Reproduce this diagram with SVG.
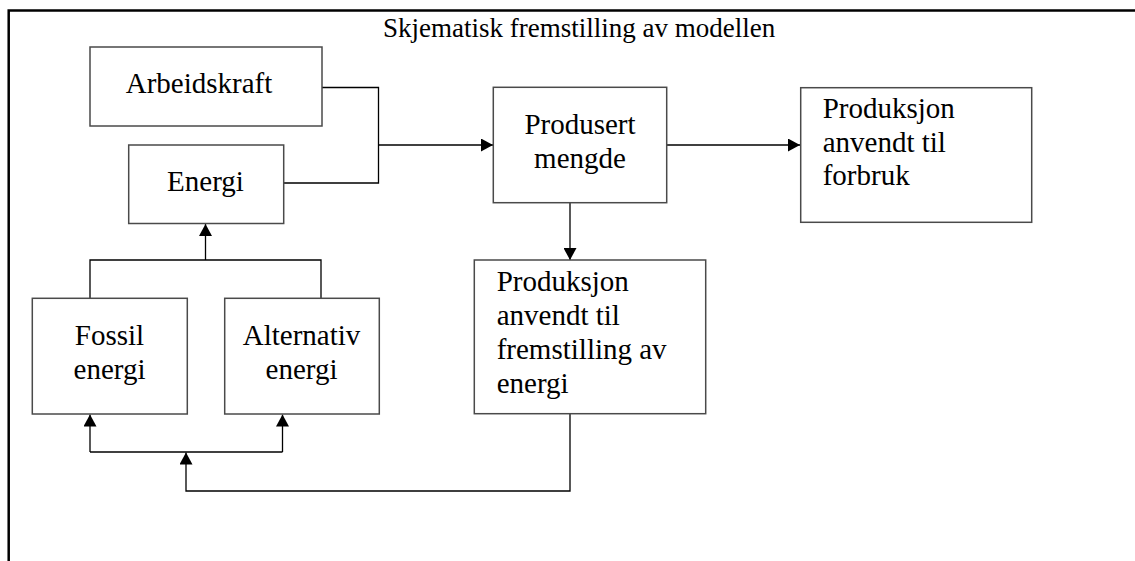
<svg xmlns="http://www.w3.org/2000/svg" width="1135" height="561" viewBox="0 0 1135 561">
<defs>
<style>
.box{fill:#fff;stroke:#4a4a4a;stroke-width:1.5}
.t{font-family:"Liberation Serif","Times New Roman",serif;font-size:29px;fill:#000}
.c{text-anchor:middle}
.ln{fill:none;stroke:#000;stroke-width:1.3}
.frame{fill:none;stroke:#000;stroke-width:2.5}
</style>
<marker id="ah" viewBox="0 0 12 13" refX="12" refY="6.5" markerWidth="12" markerHeight="13" markerUnits="userSpaceOnUse" orient="auto">
<path d="M0,0 L12,6.5 L0,13 Z" fill="#000"/>
</marker>
</defs>
<rect width="1135" height="561" fill="#fff"/>
<path class="frame" d="M8.7,561 V10.5 H1135"/>
<text id="title" x="383" y="37" font-family="'Liberation Serif','Times New Roman',serif" font-size="27" fill="#000">Skjematisk fremstilling av modellen</text>

<g id="connectors">
<polyline class="ln" points="322,87.5 378.5,87.5 378.5,183 284,183"/>
<line class="ln" x1="378.5" y1="145" x2="493" y2="145" marker-end="url(#ah)"/>
<line class="ln" x1="667" y1="145" x2="800" y2="145" marker-end="url(#ah)"/>
<line class="ln" x1="570" y1="203" x2="570" y2="260" marker-end="url(#ah)"/>
<polyline class="ln" points="570,414 570,491 186,491 186,452.5" marker-end="url(#ah)"/>
<line class="ln" x1="90" y1="452" x2="282.5" y2="452"/>
<line class="ln" x1="90" y1="452" x2="90" y2="414.5" marker-end="url(#ah)"/>
<line class="ln" x1="282.5" y1="452" x2="282.5" y2="414.5" marker-end="url(#ah)"/>
<polyline class="ln" points="90,298 90,260 321,260 321,298"/>
<line class="ln" x1="205.5" y1="260" x2="205.5" y2="224" marker-end="url(#ah)"/>
</g>

<g id="arbeidskraft">
<rect class="box" x="90" y="47" width="232" height="79"/>
<text class="t c" x="199" y="93">Arbeidskraft</text>
</g>
<g id="energi">
<rect class="box" x="128.7" y="145" width="155" height="78.5"/>
<text class="t c" x="205.5" y="191">Energi</text>
</g>
<g id="produsert">
<rect class="box" x="493.3" y="87.3" width="173.4" height="115.4"/>
<text class="t c" x="580" y="134">Produsert</text>
<text class="t c" x="580" y="167.5">mengde</text>
</g>
<g id="forbruk">
<rect class="box" x="800.7" y="87.7" width="231" height="134.6"/>
<text class="t" x="822.7" y="118">Produksjon</text>
<text class="t" x="822.7" y="151.5">anvendt til</text>
<text class="t" x="822.7" y="185">forbruk</text>
</g>
<g id="fremstilling">
<rect class="box" x="474.3" y="260" width="231.4" height="153.7"/>
<text class="t" x="496.7" y="291">Produksjon</text>
<text class="t" x="496.7" y="324.5">anvendt til</text>
<text class="t" x="496.7" y="359">fremstilling av</text>
<text class="t" x="496.7" y="393">energi</text>
</g>
<g id="fossil">
<rect class="box" x="32.3" y="298.3" width="155" height="115.7"/>
<text class="t c" x="109.5" y="345">Fossil</text>
<text class="t c" x="109.5" y="378.5">energi</text>
</g>
<g id="alternativ">
<rect class="box" x="224.7" y="298.3" width="154.6" height="115.7"/>
<text class="t c" x="301.5" y="345">Alternativ</text>
<text class="t c" x="301.5" y="378.5">energi</text>
</g>
</svg>
